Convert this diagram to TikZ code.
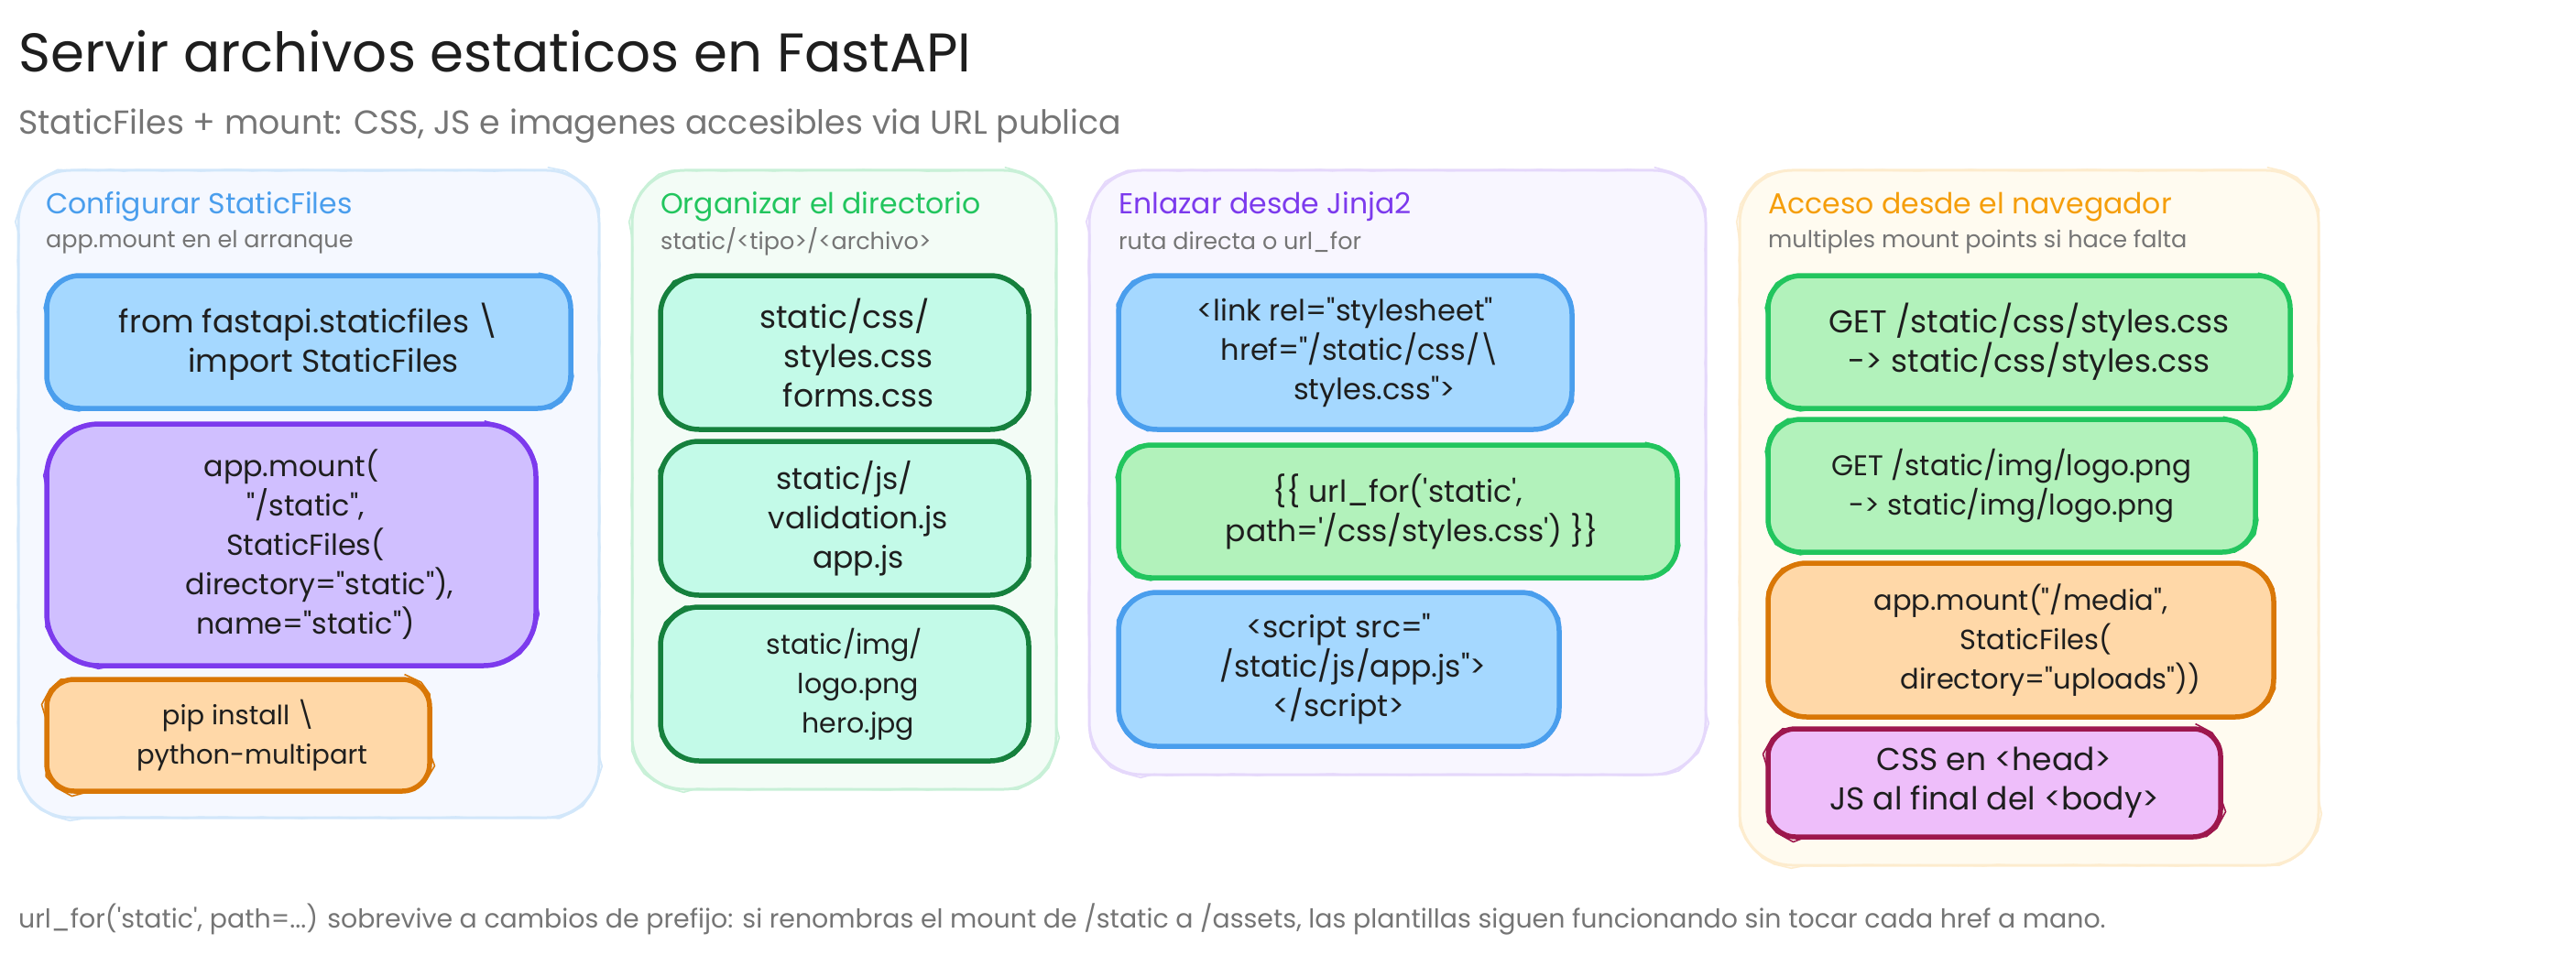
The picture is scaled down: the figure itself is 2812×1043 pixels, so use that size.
\documentclass[tikz,border=0pt]{standalone}
\usepackage{fontspec}
\setmainfont[Ligatures=TeXOff]{Poppins}
\usetikzlibrary{decorations.pathmorphing}
\definecolor{inkblack}{HTML}{1E1E1E}
\definecolor{inkgrey}{HTML}{757575}
\definecolor{blueline}{HTML}{4A9EED}
\definecolor{bluefill}{HTML}{A5D8FF}
\definecolor{greenline}{HTML}{22C55E}
\definecolor{greenfill}{HTML}{B2F2BB}
\definecolor{purpleline}{HTML}{7C3AED}
\definecolor{purplefill}{HTML}{D0BFFF}
\definecolor{orangeline}{HTML}{D97706}
\definecolor{orangefill}{HTML}{FFD8A8}
\definecolor{tealline}{HTML}{15803D}
\definecolor{tealfill}{HTML}{C3FAE8}
\definecolor{pinkline}{HTML}{9D174D}
\definecolor{pinkfill}{HTML}{EEBEFA}
\definecolor{amberline}{HTML}{F59E0B}
\definecolor{bluepanel}{HTML}{F5F8FF}
\definecolor{greenpanel}{HTML}{F3FCF6}
\definecolor{purplepanel}{HTML}{F8F6FF}
\definecolor{amberpanel}{HTML}{FFFBF0}
\newcommand{\ind}[1]{\hspace*{#1pt}}
\tikzset{
  rough/.style={postaction={draw=#1,line width=1.6pt,sharp corners,line join=round,decorate,
    decoration={random steps,segment length=14pt,amplitude=1pt}}},
  panel/.style n args={3}{draw=#1,fill=#2,line width=3pt,rounded corners=#3pt,
    rough=#1,outer sep=0pt,anchor=north west,inner sep=0pt},
  card/.style n args={3}{draw=#1,fill=#2,line width=5.5pt,rounded corners=#3pt,
    rough=#1,outer sep=0pt,anchor=north west,inner sep=0pt,text=inkblack,align=center,
    font=\fontsize{34.5}{43}\selectfont},
  cardtext/.style={font=\fontsize{#1}{43}\selectfont},
  heading/.style={anchor=west,inner sep=0pt,font=\fontsize{31.5}{38}\selectfont},
  subheading/.style={anchor=west,inner sep=0pt,text=inkgrey,font=\fontsize{25.5}{30}\selectfont},
}
\begin{document}
\begin{tikzpicture}[x=1pt,y=-1pt]
\pgfmathsetseed{7}
\useasboundingbox (0,0) rectangle (2812,1043);
% title
\node[anchor=west,inner sep=0pt,text=inkblack,font=\fontsize{59.5}{70}\selectfont] (title) at (20,56) {Servir archivos estaticos en FastAPI};
\node[anchor=west,inner sep=0pt,text=inkgrey,font=\fontsize{36.3}{44}\selectfont] (subtitle) at (20,138) {StaticFiles + mount: CSS, JS e imagenes accesibles via URL publica};
% panels
\node[panel={blueline!25}{bluepanel}{57},minimum width=634,minimum height=707] (cfg) at (20,186) {};
\node[panel={greenline!25}{greenpanel}{57},minimum width=463,minimum height=676] (org) at (690,186) {};
\node[panel={purpleline!20}{purplepanel}{57},minimum width=673,minimum height=660] (lnk) at (1189,186) {};
\node[panel={amberline!20}{amberpanel}{57},minimum width=632,minimum height=759] (nav) at (1899,186) {};
% headings
\node[heading,text=blueline] (cfghead) at (50,226) {Configurar StaticFiles};
\node[subheading] (cfgsub) at (50,264) {app.mount en el arranque};
\node[heading,text=greenline] (orghead) at (721,226) {Organizar el directorio};
\node[subheading] (orgsub) at (721,264) {static/<tipo>/<archivo>};
\node[heading,text=purpleline] (lnkhead) at (1221,226) {Enlazar desde Jinja2};
\node[subheading] (lnksub) at (1221,264) {ruta directa o url\_for};
\node[heading,text=amberline] (navhead) at (1930,226) {Acceso desde el navegador};
\node[subheading] (navsub) at (1930,264) {multiples mount points si hace falta};
% first column
\node[card={blueline}{bluefill}{36},minimum width=572,minimum height=145] (cfga) at (51,301) {from fastapi.staticfiles \textbackslash\\ \ind{32}import StaticFiles};
\node[card={purpleline}{purplefill}{57},cardtext=31.8,minimum width=534,minimum height=264] (cfgb) at (51,463) {app.mount(\\ \ind{31}"/static",\\ \ind{31}StaticFiles(\\ \ind{62}directory="static"),\\ \ind{31}name="static")};
\node[card={orangeline}{orangefill}{30},cardtext=29,minimum width=418,minimum height=122] (cfgc) at (51,742) {pip install \textbackslash\\ \ind{30}python-multipart};
% second column
\node[card={tealline}{tealfill}{42},minimum width=402,minimum height=168] (orga) at (721,301) {static/css/\\ \ind{30}styles.css\\ \ind{30}forms.css};
\node[card={tealline}{tealfill}{42},cardtext=33,minimum width=402,minimum height=168] (orgb) at (721,482) {static/js/\\ \ind{30}validation.js\\ \ind{30}app.js};
\node[card={tealline}{tealfill}{42},cardtext=30,minimum width=402,minimum height=168] (orgc) at (721,663) {static/img/\\ \ind{30}logo.png\\ \ind{30}hero.jpg};
% third column
\node[card={blueline}{bluefill}{42},cardtext=32,minimum width=495,minimum height=168] (lnka) at (1221,301) {<link rel="stylesheet"\\ \ind{32}href="/static/css/\textbackslash\\ \ind{64}styles.css">};
\node[card={greenline}{greenfill}{36},cardtext=33,minimum width=610,minimum height=145] (lnkb) at (1221,486) {\{\{ url\_for('static',\\ \ind{31}path='/css/styles.css') \}\}};
\node[card={blueline}{bluefill}{42},cardtext=33,minimum width=481,minimum height=168] (lnkc) at (1221,647) {<script src="\\ \ind{31}/static/js/app.js">\\ </script>};
% fourth column
\node[card={greenline}{greenfill}{36},minimum width=570,minimum height=145] (nava) at (1930,301) {GET /static/css/styles.css\\ -> static/css/styles.css};
\node[card={greenline}{greenfill}{36},cardtext=31,minimum width=532,minimum height=145] (navb) at (1930,458) {GET /static/img/logo.png\\ -> static/img/logo.png};
\node[card={orangeline}{orangefill}{42},cardtext=30.5,minimum width=552,minimum height=168] (navc) at (1930,615) {app.mount("/media",\\ \ind{33}StaticFiles(\\ \ind{65}directory="uploads"))};
\node[card={pinkline}{pinkfill}{30},minimum width=494,minimum height=118] (navd) at (1930,796) {CSS en <head>\\ JS al final del <body>};
% footer
\node[anchor=west,inner sep=0pt,text=inkgrey,font=\fontsize{28.4}{34}\selectfont] (note) at (20,1004) {url\_for('static', path=...) sobrevive a cambios de prefijo: si renombras el mount de /static a /assets, las plantillas siguen funcionando sin tocar cada href a mano.};
\end{tikzpicture}
\end{document}
